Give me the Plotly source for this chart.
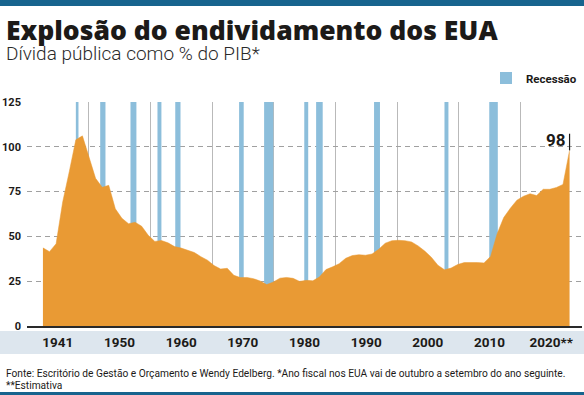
import plotly.graph_objects as go

# ---------------- data ----------------
years = list(range(1940, 2021))
debt = [43.6, 41.5, 45.9, 69.2, 86.1, 103.9, 106.1, 93.9, 82.4, 77.4,
        78.5, 65.4, 60.1, 57.1, 57.9, 55.7, 50.6, 47.2, 47.7, 46.4,
        44.3, 43.5, 42.3, 41.0, 38.7, 36.7, 33.7, 31.8, 32.2, 28.3,
        27.0, 27.1, 26.4, 25.1, 23.1, 24.5, 26.7, 27.1, 26.6, 24.9,
        25.5, 25.2, 27.4, 31.5, 33.0, 34.8, 37.8, 39.3, 39.8, 39.5,
        40.2, 42.8, 46.2, 47.6, 47.8, 47.6, 46.9, 44.7, 41.8, 38.4,
        33.9, 31.4, 32.3, 34.3, 35.4, 35.6, 35.4, 35.2, 38.8, 51.5,
        60.5, 65.7, 70.2, 72.4, 73.8, 72.8, 76.3, 76.3, 77.3, 79.0,
        98.0]

rec_start = [1945.0, 1948.7, 1953.3, 1957.4, 1960.1, 1969.8, 1973.6, 1979.7, 1981.5, 1990.3, 2001.0, 2007.8]
rec_end   = [1945.4, 1949.5, 1954.2, 1958.0, 1960.9, 1970.5, 1975.0, 1980.3, 1982.5, 1991.2, 2001.6, 2009.1]
rec_top = 125

tick_labels = ["1941", "1950", "1960", "1970", "1980", "1990", "2000", "2010", "2020**"]
y_ticks = [0, 25, 50, 75, 100, 125]

title = "Explosão do endividamento dos EUA"
subtitle = "Dívida pública como % do PIB*"
source = ("Fonte: Escritório de Gestão e Orçamento e Wendy Edelberg. "
          "*Ano fiscal nos EUA vai de outubro a setembro do ano seguinte.")
note = "**Estimativa"

# ---------------- style ----------------
ORANGE = "#e99a34"
BLUE = "#8cbedb"
DARK_BLUE = "#17648e"
STRIP = "#dde6ee"
TXT = "#1c1a18"
FONT = "Roboto, sans-serif"

W, H = 584, 395
L, R, T, B = 24, 2, 102, 69
PW, PH = W - L - R, H - T - B


def py(ypx):  # pixel -> paper y
    return (H - B - ypx) / PH


def px(xpx):  # pixel -> paper x
    return (xpx - L) / PW


fig = go.Figure()

mid = [(s + e) / 2 for s, e in zip(rec_start, rec_end)]
dur = [e - s for s, e in zip(rec_start, rec_end)]
fig.add_trace(go.Bar(
    x=mid, y=[rec_top] * len(mid), width=dur,
    marker=dict(color=BLUE, line=dict(width=0)),
    name="Recessão", showlegend=True, hoverinfo="skip",
))

fig.add_trace(go.Scatter(
    x=years, y=debt, mode="lines", fill="tozeroy",
    line=dict(color=ORANGE, width=0.5), fillcolor=ORANGE,
    showlegend=False, hoverinfo="skip",
))

# dummy trace to activate label axis
fig.add_trace(go.Scatter(x=[None], y=[None], xaxis="x2", showlegend=False))

fig.update_layout(
    width=W, height=H,
    margin=dict(l=L, r=R, t=T, b=B, pad=0),
    paper_bgcolor="white", plot_bgcolor="white",
    barmode="overlay",
    xaxis=dict(
        range=[1937.58, 2021.89], showgrid=False, zeroline=False,
        showticklabels=False, ticks="",
        showline=True, linecolor="#2a2a2a", linewidth=1.6, layer="above traces",
    ),
    xaxis2=dict(
        overlaying="x", side="bottom", range=[0, len(tick_labels)],
        tickmode="array",
        tickvals=[i + 0.5 for i in range(len(tick_labels))],
        ticktext=tick_labels, ticks="", showgrid=False, zeroline=False,
        showline=False, ticklabelstandoff=6,
        tickfont=dict(family=FONT, size=13.5, color=TXT, weight="bold"),
        minor=dict(tick0=0, dtick=1, showgrid=True, gridcolor="#b9b9b9", gridwidth=1.3, ticks=""),
    ),
    yaxis=dict(
        range=[0, 125], tickmode="array", tickvals=y_ticks, ticks="",
        showgrid=True, gridcolor="#a0a0a0", gridwidth=1, griddash="5px,4px",
        zeroline=False, showline=False, ticklabelstandoff=5,
        tickfont=dict(family=FONT, size=11, color=TXT, weight="bold"),
    ),
    legend=dict(
        x=1.0, xanchor="right", y=py(78), yanchor="middle",
        orientation="h", bgcolor="rgba(0,0,0,0)",
        font=dict(family=FONT, size=11.5, color=TXT, weight="bold"),
        itemwidth=30,
    ),
    showlegend=True,
)

shapes = [
    # top and bottom bars
    dict(type="rect", xref="paper", yref="paper", x0=px(-5), x1=px(W + 5), y0=py(6), y1=py(-5),
         fillcolor=DARK_BLUE, line=dict(width=0), layer="above"),
    dict(type="rect", xref="paper", yref="paper", x0=px(-5), x1=px(W + 5), y0=py(H + 5), y1=py(392),
         fillcolor=DARK_BLUE, line=dict(width=0), layer="above"),
    # label strip
    dict(type="rect", xref="paper", yref="paper", x0=px(-5), x1=px(W + 5), y0=py(354), y1=py(331),
         fillcolor=STRIP, line=dict(width=0), layer="below"),
    # leader for final value
    dict(type="line", xref="x", yref="y", x0=years[-1], x1=years[-1], y0=debt[-1], y1=debt[-1] + 9.3,
         line=dict(color="#1a1a1a", width=1.2)),
]
fig.update_layout(shapes=shapes)

annotations = [
    dict(text=title, xref="paper", yref="paper", x=px(1), y=py(29.5), xanchor="left", yanchor="middle",
         showarrow=False, font=dict(family="Open Sans, sans-serif", size=26.5, color=TXT, weight=800)),
    dict(text=subtitle, xref="paper", yref="paper", x=px(1), y=py(53.5), xanchor="left", yanchor="middle",
         showarrow=False, font=dict(family=FONT, size=19, color="#2a2a2a", weight=300)),
    dict(text=source, xref="paper", yref="paper", x=px(1), y=py(373.5), xanchor="left", yanchor="middle",
         showarrow=False, font=dict(family=FONT, size=10.2, color=TXT)),
    dict(text=note, xref="paper", yref="paper", x=px(1), y=py(385.5), xanchor="left", yanchor="middle",
         showarrow=False, font=dict(family=FONT, size=10.2, color=TXT)),
    dict(text=f"{debt[-1]:.0f}", xref="x", yref="y", x=years[-1], y=debt[-1] + 5.8,
         xanchor="right", yanchor="middle", xshift=-2, showarrow=False,
         font=dict(family=FONT, size=17, color=TXT, weight="bold")),
]
fig.update_layout(annotations=annotations)

fig.write_html("out.html", config={"displayModeBar": False},
               post_script="document.body.style.margin='0';")
